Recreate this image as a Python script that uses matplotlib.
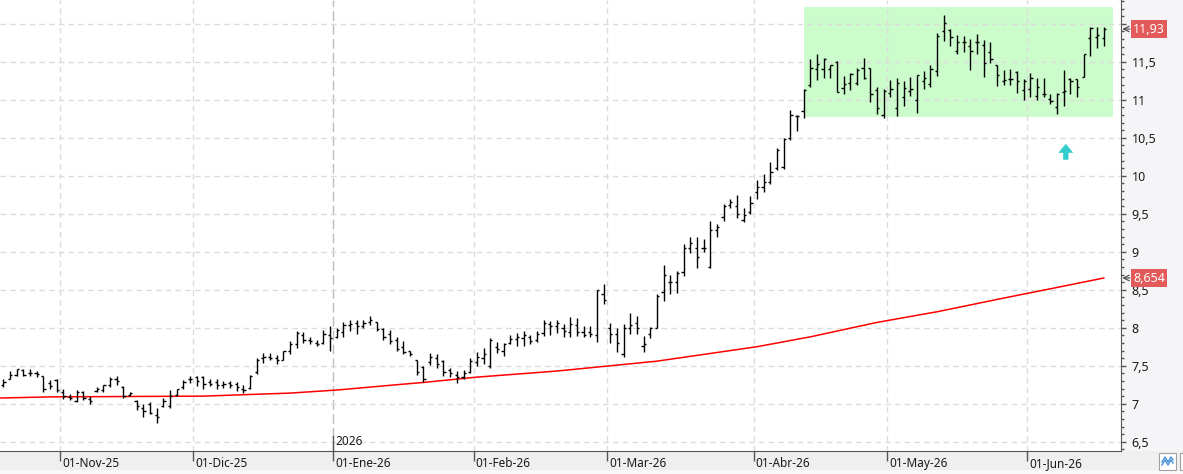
import numpy as np
import pandas as pd
import matplotlib
matplotlib.use('Agg')
import matplotlib.pyplot as plt
from matplotlib.patches import Rectangle
from matplotlib.lines import Line2D
from matplotlib.ticker import MultipleLocator, FuncFormatter

plt.rcParams['font.family'] = ['Noto Sans', 'DejaVu Sans']

# trading days (weekdays minus market holidays)
days = pd.bdate_range('2025-10-21', '2026-06-16')
holidays = pd.to_datetime(['2025-12-25', '2025-12-26', '2026-01-01', '2026-04-03', '2026-04-06'])
days = days[~days.isin(holidays)]

month_names = {1: 'Ene', 2: 'Feb', 3: 'Mar', 4: 'Abr', 5: 'May', 6: 'Jun',
               7: 'Jul', 8: 'Ago', 9: 'Sep', 10: 'Oct', 11: 'Nov', 12: 'Dic'}

opens = [7.24, 7.33, 7.38, 7.45, 7.40, 7.40, 7.37, 7.27, 7.31, 7.16,
         7.09, 7.04, 7.15, 7.06, 7.17, 7.18, 7.25, 7.32, 7.22, 7.12,
         7.04, 6.95, 7.00, 6.85, 6.97, 6.97, 7.12, 7.22, 7.33, 7.35,
         7.35, 7.28, 7.28, 7.24, 7.27, 7.26, 7.20, 7.21, 7.42, 7.60,
         7.62, 7.60, 7.58, 7.70, 7.78, 7.90, 7.84, 7.80, 7.80, 7.90,
         7.88, 7.95, 8.04, 8.06, 8.02, 8.08, 8.07, 7.98, 7.92, 7.84,
         7.75, 7.69, 7.58, 7.48, 7.55, 7.60, 7.56, 7.45, 7.38, 7.35,
         7.42, 7.55, 7.60, 7.50, 7.75, 7.70, 7.80, 7.85, 7.86, 7.88,
         7.84, 7.93, 8.05, 8.02, 8.00, 7.95, 8.04, 7.95, 7.95, 7.90,
         8.45, 8.00, 7.92, 7.66, 8.00, 8.06, 7.76, 7.92, 8.00, 8.47,
         8.60, 8.60, 8.73, 9.05, 9.05, 9.05, 8.80, 9.28, 9.46, 9.62,
         9.60, 9.42, 9.52, 9.78, 9.85, 9.92, 10.10, 10.12, 10.50, 10.78,
         10.85, 11.20, 11.41, 11.40, 11.40, 11.50, 11.15, 11.22, 11.22, 11.42,
         11.42, 11.13, 10.80, 11.09, 10.89, 11.04, 11.12, 11.00, 11.25, 11.21,
         11.38, 11.90, 11.92, 11.64, 11.76, 11.71, 11.76, 11.72, 11.63, 11.46,
         11.25, 11.27, 11.37, 11.13, 11.14, 11.05, 11.08, 11.01, 10.90, 11.10,
         11.27, 11.27, 11.30, 11.81, 11.83, 11.81]
highs = [7.32, 7.43, 7.46, 7.46, 7.46, 7.43, 7.37, 7.31, 7.32, 7.19,
         7.13, 7.18, 7.17, 7.10, 7.22, 7.25, 7.35, 7.37, 7.23, 7.16,
         7.05, 6.99, 7.02, 6.94, 7.07, 7.18, 7.20, 7.31, 7.36, 7.36,
         7.36, 7.32, 7.32, 7.30, 7.30, 7.29, 7.25, 7.38, 7.60, 7.67,
         7.67, 7.64, 7.70, 7.83, 7.96, 7.94, 7.88, 7.84, 7.97, 8.02,
         8.00, 8.07, 8.10, 8.10, 8.10, 8.15, 8.07, 7.99, 7.97, 7.88,
         7.83, 7.70, 7.58, 7.50, 7.67, 7.66, 7.57, 7.47, 7.43, 7.45,
         7.60, 7.68, 7.73, 7.86, 7.81, 7.80, 7.90, 7.93, 7.96, 7.91,
         7.96, 8.10, 8.09, 8.10, 8.05, 8.14, 8.13, 8.02, 8.02, 8.50,
         8.58, 8.06, 8.00, 8.05, 8.19, 8.15, 7.89, 8.01, 8.44, 8.83,
         8.70, 8.75, 9.10, 9.20, 9.20, 9.17, 9.41, 9.37, 9.63, 9.69,
         9.74, 9.57, 9.73, 9.95, 10.02, 10.18, 10.36, 10.50, 10.86, 10.80,
         11.14, 11.53, 11.60, 11.55, 11.46, 11.51, 11.31, 11.35, 11.42, 11.55,
         11.42, 11.17, 11.14, 11.26, 11.29, 11.25, 11.30, 11.33, 11.38, 11.46,
         11.88, 12.11, 11.93, 11.85, 11.84, 11.80, 11.87, 11.79, 11.76, 11.46,
         11.39, 11.41, 11.38, 11.27, 11.35, 11.28, 11.28, 11.08, 11.09, 11.39,
         11.29, 11.27, 11.60, 11.96, 11.96, 11.96]
lows = [7.22, 7.32, 7.37, 7.37, 7.37, 7.35, 7.16, 7.20, 7.16, 7.06,
        7.05, 7.02, 7.05, 7.00, 7.16, 7.15, 7.22, 7.25, 7.07, 7.10,
        6.92, 6.83, 6.86, 6.75, 6.96, 6.94, 7.10, 7.20, 7.27, 7.23,
        7.20, 7.23, 7.20, 7.21, 7.21, 7.17, 7.14, 7.20, 7.39, 7.53,
        7.57, 7.52, 7.57, 7.66, 7.73, 7.80, 7.78, 7.76, 7.79, 7.70,
        7.86, 7.88, 7.96, 7.92, 7.99, 8.04, 7.96, 7.84, 7.79, 7.70,
        7.65, 7.63, 7.38, 7.28, 7.51, 7.47, 7.37, 7.35, 7.27, 7.33,
        7.40, 7.49, 7.52, 7.47, 7.67, 7.63, 7.78, 7.76, 7.76, 7.78,
        7.81, 7.89, 7.90, 7.93, 7.88, 7.88, 7.89, 7.88, 7.88, 7.81,
        8.31, 7.80, 7.68, 7.61, 7.92, 7.92, 7.68, 7.87, 7.99, 8.35,
        8.45, 8.46, 8.68, 8.98, 8.79, 9.00, 8.78, 9.19, 9.40, 9.57,
        9.44, 9.39, 9.50, 9.70, 9.79, 9.89, 10.07, 10.09, 10.47, 10.59,
        10.76, 11.17, 11.26, 11.29, 11.28, 11.10, 11.07, 11.13, 11.20, 11.27,
        10.97, 10.81, 10.76, 11.03, 10.79, 10.92, 11.05, 10.83, 11.14, 11.17,
        11.31, 11.77, 11.71, 11.60, 11.63, 11.39, 11.60, 11.30, 11.48, 11.18,
        11.19, 11.20, 11.09, 11.00, 11.04, 11.00, 11.04, 10.95, 10.81, 10.92,
        11.08, 11.03, 11.30, 11.58, 11.68, 11.71]
closes = [7.28, 7.38, 7.46, 7.38, 7.41, 7.39, 7.20, 7.23, 7.18, 7.10,
          7.08, 7.15, 7.07, 7.04, 7.20, 7.24, 7.33, 7.30, 7.10, 7.14,
          6.97, 6.90, 6.88, 6.82, 7.04, 7.10, 7.19, 7.28, 7.32, 7.30,
          7.26, 7.26, 7.25, 7.26, 7.24, 7.22, 7.18, 7.36, 7.58, 7.62,
          7.60, 7.58, 7.70, 7.78, 7.93, 7.84, 7.82, 7.79, 7.92, 7.86,
          7.97, 8.04, 8.05, 8.02, 8.06, 8.10, 7.98, 7.88, 7.82, 7.72,
          7.68, 7.65, 7.42, 7.32, 7.62, 7.52, 7.42, 7.40, 7.35, 7.40,
          7.56, 7.62, 7.66, 7.84, 7.72, 7.78, 7.85, 7.88, 7.90, 7.82,
          7.92, 8.06, 8.02, 8.06, 7.96, 8.05, 7.95, 7.90, 7.92, 8.50,
          8.36, 7.92, 7.80, 8.00, 8.04, 8.00, 7.78, 8.00, 8.42, 8.70,
          8.60, 8.72, 9.05, 9.12, 8.93, 9.05, 9.28, 9.33, 9.60, 9.66,
          9.50, 9.48, 9.64, 9.85, 9.92, 10.05, 10.34, 10.48, 10.80, 10.79,
          11.13, 11.42, 11.47, 11.54, 11.46, 11.10, 11.21, 11.34, 11.39, 11.28,
          11.07, 10.89, 11.12, 11.14, 11.22, 11.16, 11.14, 11.32, 11.28, 11.41,
          11.84, 12.01, 11.82, 11.76, 11.76, 11.64, 11.76, 11.48, 11.53, 11.33,
          11.26, 11.27, 11.25, 11.24, 11.29, 11.17, 11.07, 10.98, 11.08, 11.11,
          11.25, 11.17, 11.60, 11.94, 11.85, 11.93]

# moving average, read at a few bars
ma_bar = [-0.5, 7, 30, 43, 50, 59, 63, 71, 83, 98, 113, 121, 131, 140, 150, 158, 165]
ma_val = [7.075, 7.09, 7.10, 7.14, 7.18, 7.25, 7.28, 7.35, 7.43, 7.56, 7.75, 7.88,
          8.07, 8.21, 8.39, 8.53, 8.654]

# green zone and marker
zone_bars = (120, 166.4)
zone_prices = (10.77, 12.22)
arrow_bar = 159.3
arrow_prices = (10.21, 10.42)

W, H = 1183, 474
fig = plt.figure(figsize=(W / 100, H / 100), dpi=100, facecolor='#f5f5f7')
ax = fig.add_axes([0, 23 / H, 1121 / W, 451 / H])
ax.set_facecolor('white')

idx = np.arange(len(days))
o = np.array(opens); h = np.array(highs); l = np.array(lows); c = np.array(closes)

ax.set_xlim(-0.495, 167.58)
ax.set_ylim(6.378, 12.312)

# zone
ax.add_patch(Rectangle((zone_bars[0], zone_prices[0]), zone_bars[1] - zone_bars[0],
                       zone_prices[1] - zone_prices[0], fc='#ccfccc', ec='none', zorder=0.2))

# grid
ax.set_axisbelow(True)
ax.yaxis.set_major_locator(MultipleLocator(0.5))
ax.yaxis.set_minor_locator(MultipleLocator(0.1))
ax.grid(axis='y', which='major', color='#dcdcdc', lw=1, linestyle=(0, (4, 3)), zorder=0.5)

firsts = [i for i in range(1, len(days)) if days[i].month != days[i - 1].month]
month_pos = [i - 0.5 for i in firsts]
month_lab = [days[i].strftime('01-') + month_names[days[i].month] + days[i].strftime('-%y')
             for i in firsts]
year_firsts = [i for i in firsts if days[i].month == 1]

for i in firsts:
    if i in year_firsts:
        ax.axvline(i - 0.5, color='#bdbdbd', lw=1, linestyle=(0, (7, 3)), zorder=0.5)
    else:
        ax.axvline(i - 0.5, color='#dcdcdc', lw=1, linestyle=(0, (4, 3)), zorder=0.5)

# OHLC bars
ax.vlines(idx, l, h, color='black', lw=1.0, zorder=3)
ax.hlines(o, idx - 0.33, idx, color='black', lw=1.0, zorder=3)
ax.hlines(c, idx, idx + 0.33, color='black', lw=1.0, zorder=3)

# moving average
ax.plot(ma_bar, ma_val, color='#ff0000', lw=1.1, zorder=2.5)

# arrow
ax.annotate('', xy=(arrow_bar, arrow_prices[1]), xytext=(arrow_bar, arrow_prices[0]),
            arrowprops=dict(arrowstyle='simple,head_length=0.65,head_width=1.08,tail_width=0.38',
                            mutation_scale=10, fc='#33cccc', ec='none', shrinkA=0, shrinkB=0))

# axes styling
for s in ['top', 'left']:
    ax.spines[s].set_visible(False)
ax.spines['bottom'].set_color('#555555')
ax.spines['right'].set_color('#555555')
ax.yaxis.tick_right()
ax.tick_params(axis='y', which='major', direction='out', length=3.6, width=1, color='#555555',
               pad=4, labelsize=9, labelcolor='#1a1a1a')
ax.tick_params(axis='y', which='minor', direction='out', length=2.2, width=1, color='#555555')
ax.yaxis.set_major_formatter(FuncFormatter(
    lambda v, pos: '' if v > 11.9 else ('%g' % v).replace('.', ',')))

ax.set_xticks(month_pos)
ax.set_xticklabels([])
ax.tick_params(axis='x', direction='out', length=7.2, width=1, color='#555555')

xtr = ax.get_xaxis_transform()
for p, lab in zip(month_pos, month_lab):
    ax.annotate(lab, xy=(p, 0), xycoords=xtr, xytext=(2, -6), textcoords='offset pixels',
                ha='left', va='top', fontsize=8.5, color='#1a1a1a', annotation_clip=False)
for i in year_firsts:
    ax.plot([i - 0.5, i - 0.5], [0, 15 / 451], transform=xtr, color='#555555', lw=1,
            clip_on=False, zorder=4)
    ax.annotate(str(days[i].year), xy=(i - 0.5, 0), xycoords=xtr, xytext=(2, 3),
                textcoords='offset pixels', ha='left', va='bottom', fontsize=8.5, color='#1a1a1a')

# price labels on the right axis
ytr = ax.get_yaxis_transform()
for v, txt in [(c[-1], '11,93'), (ma_val[-1], '8,654')]:
    ax.annotate('', xy=(1, v), xycoords=ytr, xytext=(9, 0), textcoords='offset pixels',
                arrowprops=dict(arrowstyle='->', color='#444444', lw=0.8, shrinkA=0, shrinkB=1))
    ax.annotate(txt, xy=(1, v), xycoords=ytr, xytext=(12, 0), textcoords='offset pixels',
                ha='left', va='center', fontsize=9, color='white', zorder=10,
                bbox=dict(boxstyle='square,pad=0.18', fc='#e35a5a', ec='none'))

# bottom strip and corner icon
def fx(x):
    return x / W


def fy(y):
    return 1 - y / H


fig.patches.append(Rectangle((0, 0), 1, 23 / H, transform=fig.transFigure, fc='#efefef',
                             ec='none', zorder=-2))
fig.patches.append(Rectangle((0, 0), 1, 4 / H, transform=fig.transFigure, fc='#f8f8f8',
                             ec='none', zorder=-1))
fig.patches.append(Rectangle((fx(1159), fy(470)), 17 / W, 17 / H, transform=fig.transFigure,
                             fc='white', ec='#a0a0a0', lw=0.8))
fig.patches.append(Rectangle((fx(1180), fy(470)), 10 / W, 17 / H, transform=fig.transFigure,
                             fc='white', ec='#a0a0a0', lw=0.8))
fig.lines.append(Line2D([fx(1162), fx(1165), fx(1168), fx(1171), fx(1173)],
                        [fy(462), fy(457), fy(462), fy(457), fy(460)],
                        transform=fig.transFigure, color='#4a90d9', lw=1))
fig.lines.append(Line2D([fx(1162), fx(1165), fx(1168), fx(1171), fx(1173)],
                        [fy(465), fy(460), fy(465), fy(460), fy(463)],
                        transform=fig.transFigure, color='#4a90d9', lw=1))

fig.savefig('out.png', dpi=100, facecolor=fig.get_facecolor())
